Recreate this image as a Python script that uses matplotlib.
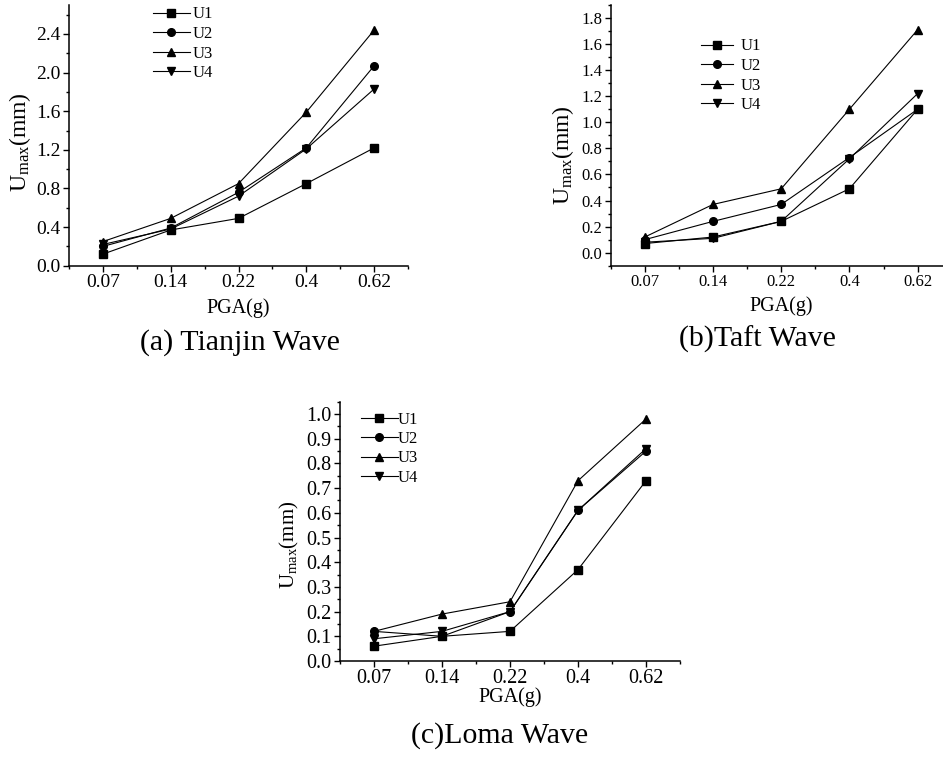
import matplotlib
matplotlib.use("Agg")
import matplotlib.pyplot as plt
from matplotlib.ticker import MultipleLocator, FixedLocator

plt.rcParams.update({
    "font.family": ["Liberation Serif", "DejaVu Serif"],
    "mathtext.fontset": "custom",
    "mathtext.rm": "Liberation Serif",
    "mathtext.it": "Liberation Serif:italic",
    "axes.linewidth": 1.1,
    "xtick.direction": "out",
    "ytick.direction": "out",
    "xtick.major.size": 4,
    "ytick.major.size": 4,
    "xtick.minor.size": 2.5,
    "ytick.minor.size": 2.5,
    "xtick.major.width": 1.0,
    "ytick.major.width": 1.0,
    "xtick.minor.width": 1.0,
    "ytick.minor.width": 1.0,
})

# PGA levels on the x axis (categorical)
pga_labels = ["0.07", "0.14", "0.22", "0.4", "0.62"]

# (a) Tianjin wave, peak displacement in mm
tianjin_u1 = [0.12, 0.37, 0.49, 0.85, 1.22]
tianjin_u2 = [0.20, 0.39, 0.76, 1.22, 2.07]
tianjin_u3 = [0.25, 0.49, 0.85, 1.59, 2.44]
tianjin_u4 = [0.22, 0.38, 0.72, 1.21, 1.83]

# (b) Taft wave
taft_u1 = [0.07, 0.12, 0.24, 0.49, 1.10]
taft_u2 = [0.10, 0.24, 0.37, 0.73, 1.10]
taft_u3 = [0.12, 0.37, 0.49, 1.10, 1.71]
taft_u4 = [0.08, 0.11, 0.24, 0.72, 1.22]

# (c) Loma wave
loma_u1 = [0.06, 0.10, 0.12, 0.37, 0.73]
loma_u2 = [0.12, 0.10, 0.20, 0.61, 0.85]
loma_u3 = [0.12, 0.19, 0.24, 0.73, 0.98]
loma_u4 = [0.09, 0.12, 0.20, 0.61, 0.86]

series_names = ["U1", "U2", "U3", "U4"]
markers = ["s", "o", "^", "v"]

W, H = 943, 757
fig = plt.figure(figsize=(W / 100, H / 100), dpi=100)


def px_axes(left, top, right, bottom):
    """Add axes from pixel bounds (origin top-left)."""
    return fig.add_axes([left / W, 1 - bottom / H, (right - left) / W, (bottom - top) / H])


def draw_panel(ax, series, ylim, ymajor, yminor, yfmt, tick_fs, leg_anchor, leg_kw):
    x = list(range(len(pga_labels)))
    for vals, name, m in zip(series, series_names, markers):
        ax.plot(x, vals, color="black", lw=0.8, marker=m, ms=5.5,
                mec="black", mfc="black", label=name, clip_on=False)
    ax.set_xlim(-0.5, 4.5)
    ax.set_ylim(*ylim)
    ax.xaxis.set_major_locator(FixedLocator(x))
    ax.set_xticklabels(pga_labels)
    ax.xaxis.set_minor_locator(MultipleLocator(0.5))
    ax.yaxis.set_major_locator(MultipleLocator(ymajor))
    ax.yaxis.set_minor_locator(MultipleLocator(yminor))
    ax.yaxis.set_major_formatter(plt.FormatStrFormatter(yfmt))
    ax.tick_params(labelsize=tick_fs, pad=2)
    ax.spines["top"].set_visible(False)
    ax.spines["right"].set_visible(False)
    ax.legend(loc="upper left", bbox_to_anchor=(leg_anchor[0] / W, 1 - leg_anchor[1] / H),
              bbox_transform=fig.transFigure, frameon=False, borderpad=0,
              borderaxespad=0, fontsize=12, **leg_kw)


ylab = r"U$_{\mathrm{max}}$(mm)"

# (a) Tianjin
ax_a = px_axes(69, 5, 408, 265.7)
draw_panel(ax_a, [tianjin_u1, tianjin_u2, tianjin_u3, tianjin_u4],
           (0, 2.7), 0.4, 0.2, "%.1f", 14, (153, 6.5),
           dict(handlelength=2.2, handletextpad=0.15, labelspacing=0.21))
fig.text(20 / W, 1 - 142 / H, ylab, rotation=90, ha="center", va="center", fontsize=17)
fig.text(238.5 / W, 1 - 308 / H, "PGA(g)", ha="center", va="center", fontsize=14.5)
fig.text(240 / W, 1 - 343 / H, "(a) Tianjin Wave", ha="center", va="center", fontsize=21.5)

# (b) Taft
ax_b = px_axes(610.7, 5, 951.7, 265.7)
draw_panel(ax_b, [taft_u1, taft_u2, taft_u3, taft_u4],
           (-0.1, 1.9), 0.2, 0.1, "%.1f", 12, (701, 38.5),
           dict(handlelength=1.9, handletextpad=0.5, labelspacing=0.21))
fig.text(563 / W, 1 - 155 / H, ylab, rotation=90, ha="center", va="center", fontsize=17)
fig.text(781 / W, 1 - 306 / H, "PGA(g)", ha="center", va="center", fontsize=14.5)
fig.text(757 / W, 1 - 339 / H, "(b)Taft Wave", ha="center", va="center", fontsize=21.5)

# (c) Loma
ax_c = px_axes(340, 401.7, 680, 661)
draw_panel(ax_c, [loma_u1, loma_u2, loma_u3, loma_u4],
           (0, 1.05), 0.1, 0.05, "%.1f", 14.5, (361, 411.5),
           dict(handlelength=2.2, handletextpad=0.0, labelspacing=0.21))
fig.text(289 / W, 1 - 545 / H, ylab, rotation=90, ha="center", va="center", fontsize=15)
fig.text(510 / W, 1 - 697 / H, "PGA(g)", ha="center", va="center", fontsize=14.5)
fig.text(500 / W, 1 - 736 / H, "(c)Loma Wave", ha="center", va="center", fontsize=21.5)

fig.savefig("out.png", dpi=100)
